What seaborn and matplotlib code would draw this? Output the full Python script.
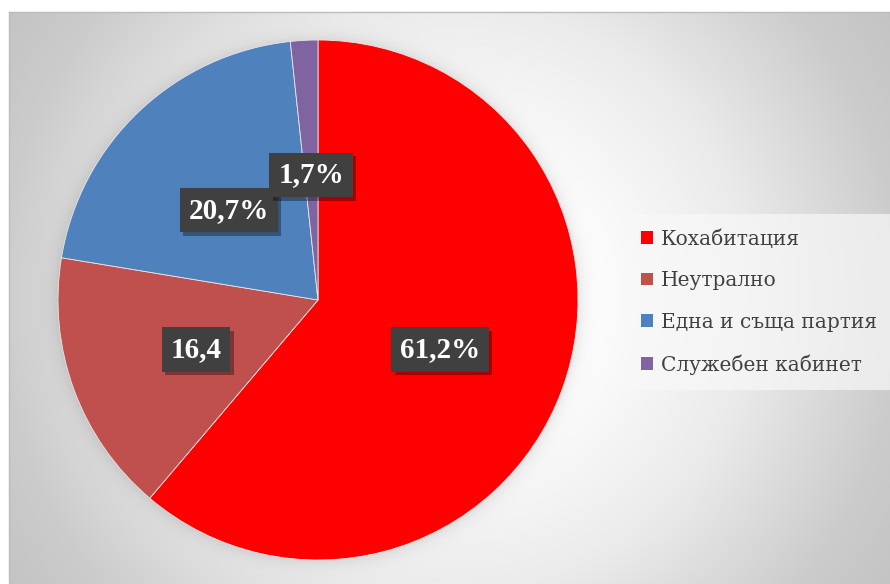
import matplotlib
matplotlib.use("Agg")
import matplotlib.pyplot as plt
import matplotlib.patheffects as pe
import numpy as np
import seaborn as sns

# DATA
categories = ["Кохабитация", "Неутрално", "Една и съща партия", "Служебен кабинет"]
values = [61.2, 16.4, 20.7, 1.7]
value_labels = ["61,2%", "16,4", "20,7%", "1,7%"]
colors = ["#FF0000", "#C0504D", "#4F81BD", "#8064A2"]

sns.set_style("white")
plt.rcParams["font.family"] = ["DejaVu Serif"]

W, H = 890, 584
fig = plt.figure(figsize=(W / 100, H / 100), dpi=100, facecolor="white")

# BACKGROUND: RADIAL GRADIENT + SOFT SHADOW AROUND THE PIE
left_px, top_px = 9, 12
bw, bh = W - left_px, H - top_px
pie_cx, pie_cy, pie_r = 318, 300, 260
xx, yy = np.meshgrid(np.arange(bw) + left_px, np.arange(bh) + top_px)
d = np.hypot(xx - (left_px + bw / 2), yy - (top_px + bh / 2))
v = np.interp(d, [0, 150, 300, 450, 540], [1.0, 0.99, 0.92, 0.80, 0.76])
rr = np.hypot(xx - pie_cx, yy - pie_cy) - pie_r
v = v - 0.08 * np.exp(-np.clip(rr, 0, None) / 7)
img = np.dstack([v, v, v])

bg = fig.add_axes([left_px / W, 0, bw / W, bh / H])
bg.imshow(img, aspect="auto", interpolation="bilinear")
bg.set_xticks([])
bg.set_yticks([])
for s in ["right", "bottom"]:
    bg.spines[s].set_visible(False)
for s in ["top", "left"]:
    bg.spines[s].set_color("#bcbcbc")
    bg.spines[s].set_linewidth(1.0)

# PIE
ax = fig.add_axes([(pie_cx - pie_r) / W, (H - pie_cy - pie_r) / H, 2 * pie_r / W, 2 * pie_r / H])
ax.patch.set_alpha(0)
lab_iter = iter(value_labels)
wedges, texts, autotexts = ax.pie(
    values, colors=colors, startangle=90, counterclock=False, radius=1,
    autopct=lambda p: next(lab_iter), pctdistance=0.5,
    wedgeprops=dict(edgecolor="#e8e8e8", linewidth=0.6),
)
ax.set_xlim(-1, 1)
ax.set_ylim(-1, 1)

for t in autotexts:
    t.set_y(t.get_position()[1] - 0.018)
    t.set_family("Liberation Serif")
    t.set_fontweight("bold")
    t.set_fontsize(21)
    t.set_color("white")
    t.set_bbox(dict(boxstyle="square,pad=0.3", facecolor="#404040", edgecolor="none"))
    t.get_bbox_patch().set_path_effects([
        pe.SimplePatchShadow(offset=(2.5, -2.5), shadow_rgbFace="black", alpha=0.35),
        pe.Normal(),
    ])

# LEGEND
leg = fig.legend(
    wedges, categories, loc="upper left",
    bbox_to_anchor=(626 / W, 1 - 214 / H), bbox_transform=fig.transFigure,
    frameon=True, fancybox=False, fontsize=14.5,
    handlelength=0.6, handleheight=0.6, handletextpad=0.4,
    labelspacing=1.12, borderpad=0.75, borderaxespad=0,
)
leg.get_frame().set_facecolor("#f8f8f8")
leg.get_frame().set_alpha(0.7)
leg.get_frame().set_edgecolor("none")
for t in leg.get_texts():
    t.set_color("#404040")
for h in leg.legend_handles:
    h.set_edgecolor("none")

fig.savefig("out.png", dpi=100, facecolor="white")
